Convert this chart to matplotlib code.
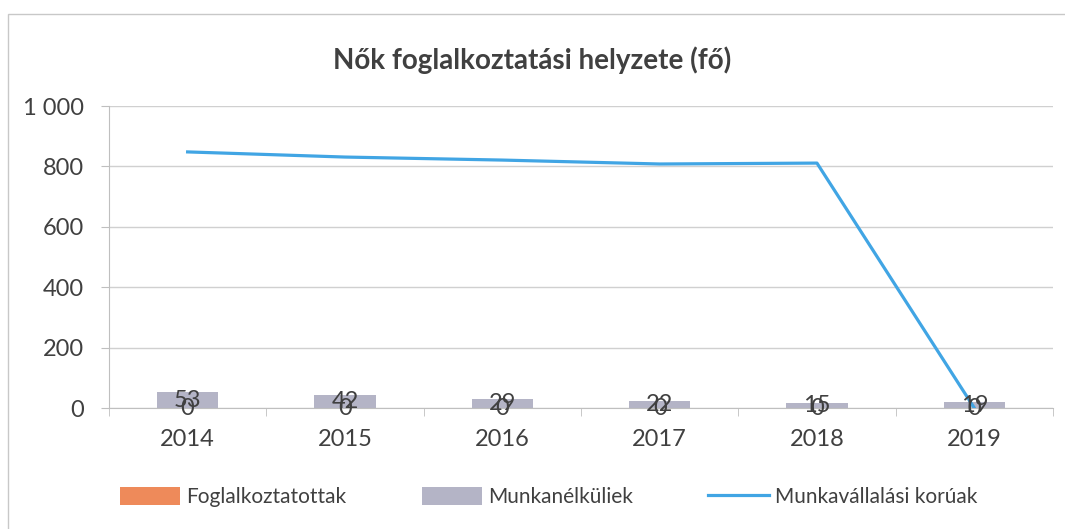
import numpy as np
import matplotlib.pyplot as plt
from matplotlib.ticker import FuncFormatter, FixedLocator
from matplotlib.patches import Rectangle

plt.rcParams['font.family'] = ['Lato', 'DejaVu Sans']

years = ['2014', '2015', '2016', '2017', '2018', '2019']
foglalkoztatottak = [0, 0, 0, 0, 0, 0]
munkanelkuliek = [53, 42, 29, 22, 15, 19]
munkavallalasi = [848, 831, 821, 808, 811, 0]

c_orange = '#EE8A5A'
c_gray = '#B4B4C6'
c_blue = '#41A5E4'
c_text = '#404040'
c_axis = '#BFBFBF'

fig = plt.figure(figsize=(10.65, 5.29), dpi=100)
ax = fig.add_axes([0.1023, 0.2287, 0.8864, 0.5709])

x = np.arange(len(years))
w = 0.39
b1 = ax.bar(x, foglalkoztatottak, w, color=c_orange, label='Foglalkoztatottak', zorder=2)
b2 = ax.bar(x, munkanelkuliek, w, color=c_gray, label='Munkanélküliek', zorder=2)
ln, = ax.plot(x, munkavallalasi, color=c_blue, lw=2.3, label='Munkavállalási korúak', zorder=3)

# data labels centered on bars (they overlap in the original too)
for xi, v in zip(x, munkanelkuliek):
    ax.text(xi, v / 2, str(v), ha='center', va='center', fontsize=17, color=c_text, zorder=4)
for xi, v in zip(x, foglalkoztatottak):
    ax.text(xi, v / 2, str(v), ha='center', va='center', fontsize=17, color=c_text, zorder=4)

ax.set_xlim(-0.5, len(years) - 0.5)
ax.set_ylim(0, 1000)
ax.set_yticks(np.arange(0, 1001, 200))
ax.yaxis.set_major_formatter(FuncFormatter(lambda v, p: f'{int(v):,}'.replace(',', ' ')))
ax.yaxis.grid(True, color='#D0D0D0', lw=1, zorder=0)
ax.set_axisbelow(True)

ax.set_xticks(x)
ax.set_xticklabels(years)
ax.xaxis.set_minor_locator(FixedLocator(np.arange(-0.5, len(years), 1.0)))
ax.tick_params(axis='x', which='major', length=0, pad=15, labelsize=17, labelcolor=c_text)
ax.tick_params(axis='x', which='minor', length=6, color=c_axis, direction='out')
ax.tick_params(axis='y', length=6, color=c_axis, pad=12, labelsize=17, labelcolor=c_text)

for s in ['top', 'right']:
    ax.spines[s].set_visible(False)
ax.spines['left'].set_color(c_axis)
ax.spines['bottom'].set_color(c_axis)

fig.text(0.5, 1 - 60 / 529, 'Nők foglalkoztatási helyzete (fő)', ha='center', va='center',
         fontsize=20, fontweight='bold', color=c_text)

leg = fig.legend(handles=[b1, b2, ln], loc='center', bbox_to_anchor=(0.515, 1 - 497 / 529),
                 ncol=3, frameon=False, fontsize=15, handlelength=2.9, handleheight=1.0,
                 columnspacing=3.6, handletextpad=0.3)
for t in leg.get_texts():
    t.set_color(c_text)

# chart area border
fig.patches.append(Rectangle((8 / 1065, -0.05), 1.1, 1 - 14 / 529 + 0.05, transform=fig.transFigure,
                             fill=False, edgecolor='#C8C8C8', lw=1))

fig.savefig('out.png', dpi=100)
